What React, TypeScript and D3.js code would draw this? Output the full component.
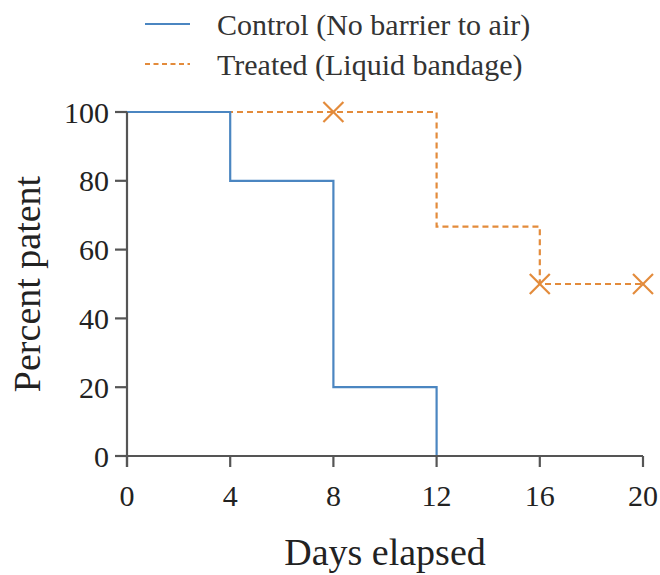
import React from 'react';
import * as d3 from 'd3';

const controlDays = [0, 4, 8, 12];
const controlPct = [100, 80, 20, 0];
const treatedDays = [0, 12, 16, 20];
const treatedPct = [100, 66.7, 50, 50];
const censorDays = [8, 16, 20];
const censorPct = [100, 50, 50];
const xTicks = [0, 4, 8, 12, 16, 20];
const yTicks = [0, 20, 40, 60, 80, 100];
const seriesNames = ['Control (No barrier to air)', 'Treated (Liquid bandage)'];

const blue = '#4b86c1';
const orange = '#e38b3b';
const axisColor = '#555';
const font = '"Liberation Serif", "Times New Roman", serif';

export default function App() {
  const W = 660, H = 575;
  const x = d3.scaleLinear().domain([0, 20]).range([127, 643]);
  const y = d3.scaleLinear().domain([0, 100]).range([456, 112]);

  // step-after line
  const line = d3.line<[number, number]>().x(d => x(d[0])).y(d => y(d[1])).curve(d3.curveStepAfter);
  const ctrl: [number, number][] = controlDays.map((d, i) => [d, controlPct[i]]);
  const trt: [number, number][] = treatedDays.map((d, i) => [d, treatedPct[i]]);

  return (
    <svg width={W} height={H} style={{ position: 'absolute', left: 0, top: 0 }} fontFamily={font}>
      {/* legend */}
      <line x1={145} x2={190} y1={24} y2={24} stroke={blue} strokeWidth={2} />
      <text x={217} y={35} fontSize={30} fill="#333">{seriesNames[0]}</text>
      <line x1={145} x2={190} y1={64} y2={64} stroke={orange} strokeWidth={2} strokeDasharray="5,3.5" />
      <text x={217} y={75} fontSize={30} fill="#333">{seriesNames[1]}</text>

      {/* treated under control */}
      <path d={line(trt) || ''} fill="none" stroke={orange} strokeWidth={2.2} strokeDasharray="6,4" />
      <path d={line(ctrl) || ''} fill="none" stroke={blue} strokeWidth={2.2} />
      {censorDays.map((d, i) => (
        <g key={i} transform={`translate(${x(d)},${y(censorPct[i])})`} stroke={orange} strokeWidth={2.2}>
          <line x1={-10} y1={-10} x2={10} y2={10} />
          <line x1={-10} y1={10} x2={10} y2={-10} />
        </g>
      ))}

      {/* axes */}
      <line x1={x(0)} x2={x(0)} y1={y(100)} y2={y(0) + 11} stroke={axisColor} strokeWidth={2.2} />
      <line x1={x(0) - 12} x2={x(20)} y1={y(0)} y2={y(0)} stroke={axisColor} strokeWidth={2.2} />
      {yTicks.map(t => (
        <g key={t}>
          <line x1={x(0) - 12} x2={x(0)} y1={y(t)} y2={y(t)} stroke={axisColor} strokeWidth={2.2} />
          <text x={x(0) - 18} y={y(t)} dy="0.35em" textAnchor="end" fontSize={30} fill="#222">{t}</text>
        </g>
      ))}
      {xTicks.map(t => (
        <g key={t}>
          <line x1={x(t)} x2={x(t)} y1={y(0)} y2={y(0) + 11} stroke={axisColor} strokeWidth={2.2} />
          <text x={x(t)} y={y(0) + 50} textAnchor="middle" fontSize={30} fill="#222">{t}</text>
        </g>
      ))}
      <text x={385} y={565} textAnchor="middle" fontSize={38} fill="#222">Days elapsed</text>
      <text transform={`translate(40,${(y(0) + y(100)) / 2}) rotate(-90)`} textAnchor="middle" fontSize={38} fill="#222">Percent patent</text>
    </svg>
  );
}
